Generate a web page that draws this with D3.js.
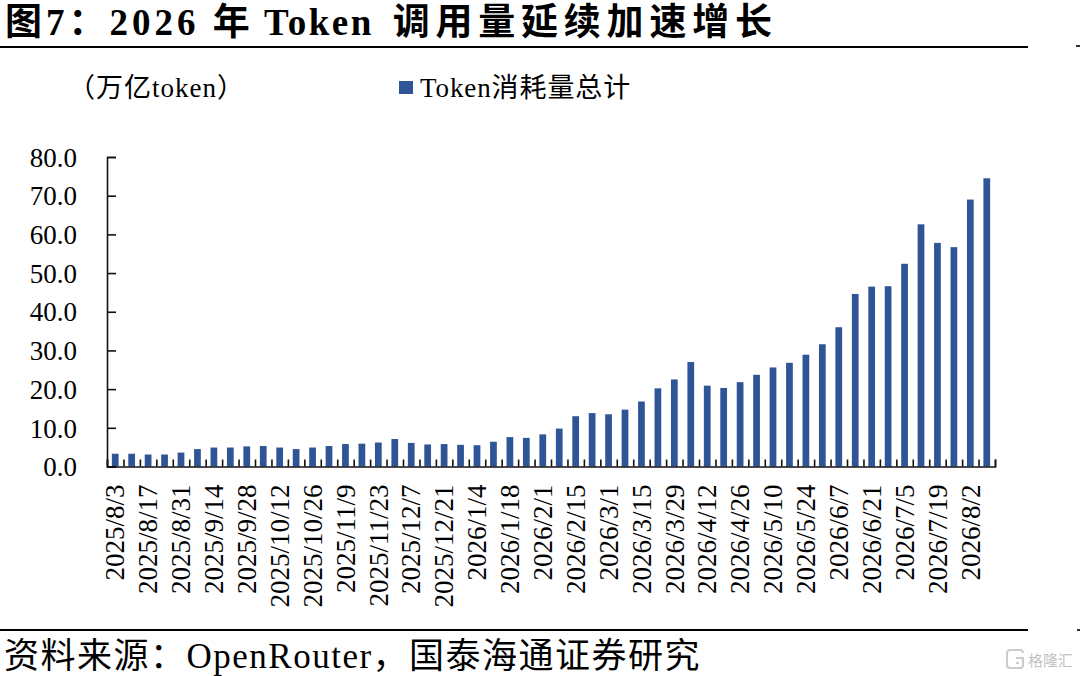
<!DOCTYPE html>
<html lang="zh">
<head>
<meta charset="utf-8">
<script src="https://cdn.jsdelivr.net/npm/d3@7/dist/d3.min.js"></script>
<style>
html,body{margin:0;padding:0;background:#fff;}
svg{display:block;}
text{font-family:"Liberation Serif","Noto Sans CJK SC",serif;fill:#000;}
</style>
</head>
<body>
<svg id="c" width="1080" height="676"></svg>
<script>
const categories = ["2025/8/3","2025/8/10","2025/8/17","2025/8/24","2025/8/31","2025/9/7","2025/9/14","2025/9/21","2025/9/28","2025/10/5","2025/10/12","2025/10/19","2025/10/26","2025/11/2","2025/11/9","2025/11/16","2025/11/23","2025/11/30","2025/12/7","2025/12/14","2025/12/21","2025/12/28","2026/1/4","2026/1/11","2026/1/18","2026/1/25","2026/2/1","2026/2/8","2026/2/15","2026/2/22","2026/3/1","2026/3/8","2026/3/15","2026/3/22","2026/3/29","2026/4/5","2026/4/12","2026/4/19","2026/4/26","2026/5/3","2026/5/10","2026/5/17","2026/5/24","2026/5/31","2026/6/7","2026/6/14","2026/6/21","2026/6/28","2026/7/5","2026/7/12","2026/7/19","2026/7/26","2026/8/2","2026/8/9"];
const tokenValues = [3.3,3.3,3.1,3.1,3.6,4.5,4.9,4.9,5.2,5.3,4.9,4.5,4.9,5.3,5.8,5.9,6.2,7.1,6.1,5.7,5.8,5.6,5.5,6.4,7.6,7.4,8.3,9.8,13,13.8,13.5,14.7,16.8,20.2,22.5,27,20.9,20.3,21.8,23.7,25.6,26.8,28.9,31.6,36,44.6,46.5,46.6,52.4,62.6,57.8,56.7,69,74.5];
const tickLabels = ["2025/8/3","2025/8/17","2025/8/31","2025/9/14","2025/9/28","2025/10/12","2025/10/26","2025/11/9","2025/11/23","2025/12/7","2025/12/21","2026/1/4","2026/1/18","2026/2/1","2026/2/15","2026/3/1","2026/3/15","2026/3/29","2026/4/12","2026/4/26","2026/5/10","2026/5/24","2026/6/7","2026/6/21","2026/7/5","2026/7/19","2026/8/2"];
const yTicks = [0,10,20,30,40,50,60,70,80];
const titleParts = ["图7：2026 年 ","Token ","调用量延续加速增长"];
const unitText = "（万亿token）";
const seriesName = "Token消耗量总计";
const sourceText = "资料来源：OpenRouter，国泰海通证券研究";
const watermarkText = "格隆汇";

const svg = d3.select("#c");
const L = 107, R = 995, T = 157, B = 466.5;
const x = d3.scaleBand().domain(categories).range([L,R]).paddingInner(0.59).paddingOuter(0.295);
const xEdges = d3.scaleLinear().domain([0,categories.length]).range([L,R]);
const y = d3.scaleLinear().domain([0,80]).range([B,T]);

// header and footer
const title = svg.append("text").attr("x",5).attr("y",35).attr("font-size",37).attr("font-weight",700).attr("xml:space","preserve").style("white-space","pre");
title.append("tspan").attr("letter-spacing",4).text(titleParts[0]);
title.append("tspan").attr("dx",-3).attr("letter-spacing",2.5).text(titleParts[1]);
title.append("tspan").attr("dx",7).attr("letter-spacing",5.8).text(titleParts[2]);
[47,630].forEach(py=>{
  svg.append("line").attr("x1",0).attr("x2",1028).attr("y1",py).attr("y2",py).attr("stroke","#000").attr("stroke-width",2);
});
svg.append("line").attr("x1",1076).attr("x2",1080).attr("y1",46).attr("y2",46).attr("stroke","#333").attr("stroke-width",2);
svg.append("line").attr("x1",1077).attr("x2",1080).attr("y1",630).attr("y2",630).attr("stroke","#333").attr("stroke-width",2);
svg.append("text").attr("x",4).attr("y",668).attr("font-size",35).attr("letter-spacing",1.5).text(sourceText);

// unit and legend
svg.append("text").attr("x",68).attr("y",97).attr("font-size",27).attr("letter-spacing",1).text(unitText);
svg.append("rect").attr("x",399).attr("y",81).attr("width",14).attr("height",13).attr("fill","#2F5597");
svg.append("text").attr("x",420).attr("y",97).attr("font-size",27).attr("letter-spacing",0.9).text(seriesName);

// bars
svg.append("g").selectAll("rect").data(tokenValues).join("rect")
  .attr("x",(d,i)=>x(categories[i]))
  .attr("width",x.bandwidth())
  .attr("y",d=>y(d))
  .attr("height",d=>y(0)-y(d))
  .attr("fill","#2F5597");

// y axis
const gy = svg.append("g").attr("transform",`translate(${L},0)`)
  .call(d3.axisRight(y).tickValues(yTicks).tickSize(9).tickFormat(d3.format(".1f")));
gy.select(".domain").attr("stroke","#111").attr("stroke-width",1.6);
gy.selectAll(".tick line").attr("stroke","#111").attr("stroke-width",1.6);
gy.selectAll(".tick text").attr("x",-30).attr("text-anchor","end").attr("font-size",27).attr("dy","0.34em")
  .attr("font-family",'"Liberation Serif",serif');

// x axis edge ticks
const gt = svg.append("g").attr("transform",`translate(0,${B})`)
  .call(d3.axisTop(xEdges).tickValues(d3.range(categories.length+1)).tickSize(7).tickFormat(""));
gt.select(".domain").attr("stroke","#111").attr("stroke-width",1.6);
gt.selectAll(".tick line").attr("stroke","#111").attr("stroke-width",1.6);

// x axis labels
const gx = svg.append("g").attr("transform",`translate(0,${B})`)
  .call(d3.axisBottom(x).tickValues(tickLabels).tickSize(0));
gx.select(".domain").remove();
gx.selectAll(".tick text")
  .attr("font-size",27).attr("font-family",'"Liberation Serif",serif')
  .attr("text-anchor","end")
  .attr("transform","rotate(-90)")
  .attr("x",-18).attr("y",0).attr("dy","0.34em");

// watermark
const wm = svg.append("g").attr("opacity",0.6);
wm.append("path").attr("d","M1023 653 Q1023 650 1020 650 H1010 Q1007 650 1007 653 V665 Q1007 668 1010 668 H1020 Q1023 668 1023 665 V658 H1016 M1016 663 H1019")
  .attr("fill","none").attr("stroke","#aaa").attr("stroke-width",2);
wm.append("text").attr("x",1028).attr("y",666).attr("font-size",15).style("fill","#999").text(watermarkText);
</script>
</body>
</html>
